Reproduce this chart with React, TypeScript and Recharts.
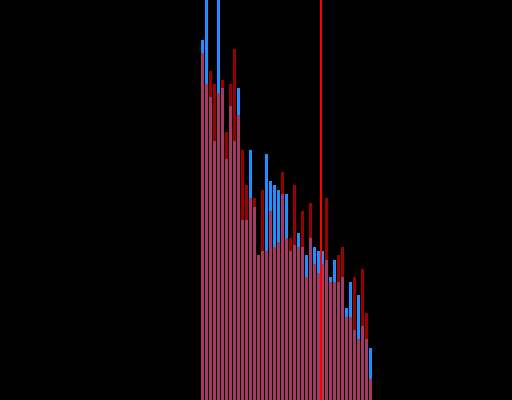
import { BarChart, Bar, XAxis, YAxis, ReferenceLine } from 'recharts';

// histogram bins (index of each bar)
const BINS = [
  0, 1, 2, 3, 4, 5, 6, 7, 8, 9, 10, 11, 12, 13, 14, 15, 16, 17, 18, 19, 20, 21,
  22, 23, 24, 25, 26, 27, 28, 29, 30, 31, 32, 33, 34, 35, 36, 37, 38, 39, 40, 41, 42,
];

const BLUE_COUNTS = [
  90, 110, 75.75, 64.75, 115, 78, 60.25, 73.5, 64.75, 78, 45, 45, 62.5, 48.25, 36.25, 37.25,
  61.5, 54.75, 53.75, 52.5, 51.5, 51.5, 37.25, 38.75, 41.75, 38.25, 36.25, 40.5, 38.25, 37.25,
  37.25, 35, 30.75, 35, 29.5, 30.75, 23, 29.5, 17.5, 26.25, 18.5, 15.25, 13,
];

const RED_COUNTS = [
  86.75, 79, 82.25, 79, 76.75, 80, 67, 79, 87.75, 71.25, 62.5, 53.75, 50.5, 50.5, 36.25, 52.5,
  37.25, 47.25, 38.25, 39.5, 57, 40.5, 40.5, 53.75, 38.25, 47.25, 30.75, 49.25, 34, 31.75,
  34, 50.5, 29.5, 29.5, 36.25, 38.25, 20.75, 20.75, 30.75, 15.25, 32.75, 21.75, 5.25,
];

const MARKER = 29.75;

const X_DOMAIN: [number, number] = [-50.5, 77.5];
const Y_DOMAIN: [number, number] = [0, 100];

const data = BINS.map((bin, i) => ({ bin, blue: BLUE_COUNTS[i], red: RED_COUNTS[i] }));

export default function App() {
  return (
    <div style={{ position: 'absolute', left: 0, top: 0, width: 512, height: 400, background: '#000' }}>
      <BarChart width={512} height={400} data={data} margin={{ top: 0, right: 0, bottom: 0, left: 0 }}>
        <XAxis xAxisId="a" type="number" dataKey="bin" domain={X_DOMAIN} allowDataOverflow hide />
        <XAxis xAxisId="b" type="number" dataKey="bin" domain={X_DOMAIN} allowDataOverflow hide />
        <YAxis domain={Y_DOMAIN} allowDataOverflow hide />
        <Bar xAxisId="a" dataKey="blue" fill="#1e90ff" barSize={3} isAnimationActive={false} />
        <Bar xAxisId="b" dataKey="red" fill="#ff0000" fillOpacity={0.6} barSize={3} isAnimationActive={false} />
        <ReferenceLine xAxisId="a" x={MARKER} stroke="#ff0000" strokeWidth={2} />
      </BarChart>
    </div>
  );
}
